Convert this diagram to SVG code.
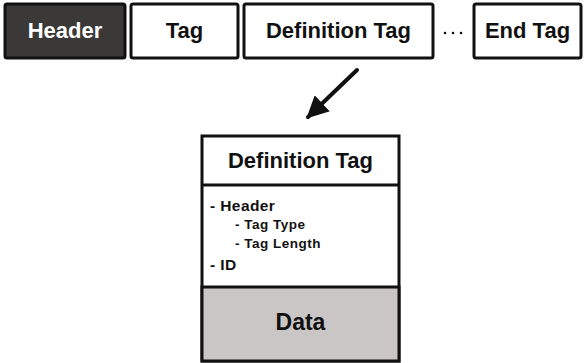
<svg xmlns="http://www.w3.org/2000/svg" width="585" height="363" viewBox="0 0 585 363">
  <style>
    .box { fill: #ffffff; stroke: #111111; stroke-width: 3; }
    .dark { fill: #3b3838; }
    .grey { fill: #c9c6c5; }
    .lbl { font-family: "Liberation Sans", Arial, sans-serif; font-weight: bold; fill: #111111; }
    .big { font-size: 22px; text-anchor: middle; }
    .light { fill: #ffffff; }
    .item { font-size: 15.5px; letter-spacing: 0.4px; }
    .sub { font-size: 13.5px; letter-spacing: 0.5px; }
  </style>
  <defs>
    <marker id="head" viewBox="0 0 10 10" refX="9" refY="5" markerWidth="5.5" markerHeight="5.5" orient="auto" markerUnits="strokeWidth">
      <path d="M0,0 L10,5 L0,10 Z" fill="#111111"/>
    </marker>
  </defs>

  <!-- top row: stream of tags -->
  <g id="header">
    <rect class="box dark" x="5" y="4" width="120" height="54" rx="2"/>
    <text class="lbl big light" x="65" y="38">Header</text>
  </g>
  <g id="tag">
    <rect class="box" x="131" y="4" width="107" height="54" rx="2"/>
    <text class="lbl big" x="184.5" y="38">Tag</text>
  </g>
  <g id="definition-tag">
    <rect class="box" x="244" y="4" width="189" height="54" rx="2"/>
    <text class="lbl big" x="338.5" y="38">Definition Tag</text>
  </g>
  <g id="ellipsis">
    <circle cx="445" cy="33" r="1.3" fill="#111111"/>
    <circle cx="453" cy="33" r="1.3" fill="#111111"/>
    <circle cx="461" cy="33" r="1.3" fill="#111111"/>
  </g>
  <g id="end-tag">
    <rect class="box" x="474" y="4" width="107" height="54" rx="2"/>
    <text class="lbl big" x="527.5" y="38">End Tag</text>
  </g>

  <!-- expansion arrow -->
  <g id="connectors">
    <line x1="357" y1="70" x2="308" y2="117" stroke="#111111" stroke-width="4" stroke-linecap="round" marker-end="url(#head)"/>
  </g>

  <!-- detailed definition tag structure -->
  <g id="definition-detail">
    <rect class="box" x="202" y="136" width="197" height="225"/>
    <rect class="box grey" x="202" y="287" width="197" height="74"/>
    <line x1="202" y1="185" x2="399" y2="185" stroke="#111111" stroke-width="3"/>
    <text class="lbl big" x="300.5" y="168">Definition Tag</text>
    <text class="lbl item" x="210" y="211">- Header</text>
    <text class="lbl sub" x="235" y="229">- Tag Type</text>
    <text class="lbl sub" x="235" y="248">- Tag Length</text>
    <text class="lbl item" x="210" y="270">- ID</text>
    <text class="lbl big" x="300.5" y="330" style="font-size:23px">Data</text>
  </g>
</svg>
